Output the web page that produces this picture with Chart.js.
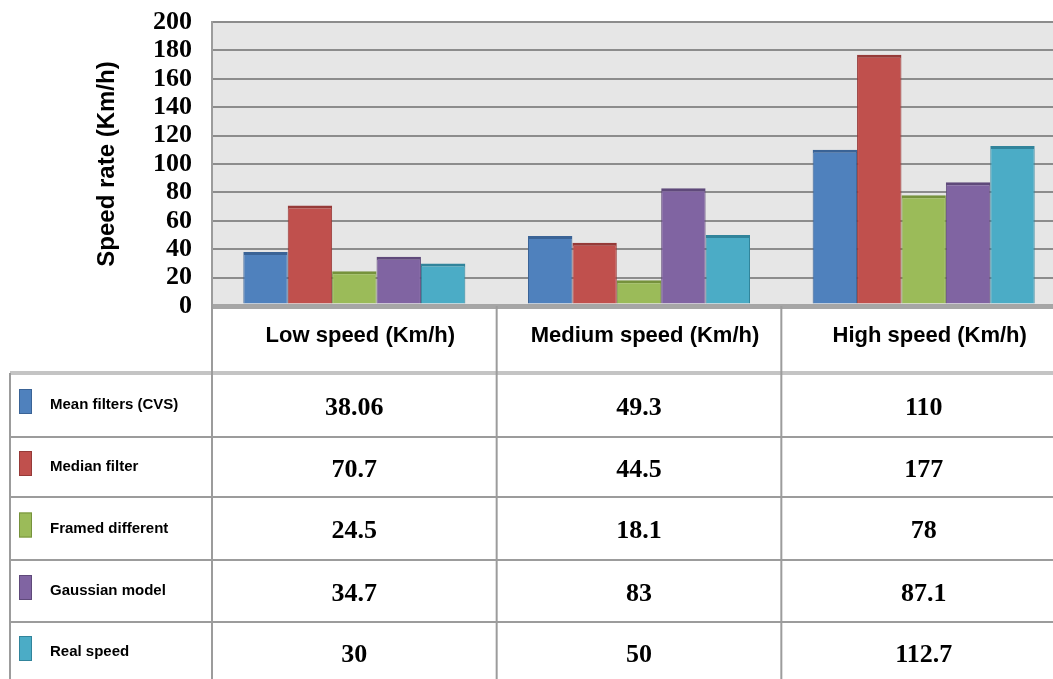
<!DOCTYPE html>
<html>
<head>
<meta charset="utf-8">
<script src="https://cdn.jsdelivr.net/npm/chart.js@4.4.1/dist/chart.umd.min.js"></script>
<style>
  html, body { margin: 0; padding: 0; background: #fff; overflow: hidden; }
  #wrap { width: 1066px; height: 679px; position: relative; }
</style>
</head>
<body>
<div id="wrap"><canvas id="myChart"></canvas></div>
<script>
// categories and series
const categories = ['Low speed (Km/h)', 'Medium speed (Km/h)', 'High speed (Km/h)'];
const seriesNames = ['Mean filters (CVS)', 'Median filter', 'Framed different', 'Gaussian model', 'Real speed'];
const meanFilters = [38.06, 49.3, 110];
const medianFilter = [70.7, 44.5, 177];
const framedDifferent = [24.5, 18.1, 78];
const gaussianModel = [34.7, 83, 87.1];
const realSpeed = [30, 50, 112.7];
const yTicks = [0, 20, 40, 60, 80, 100, 120, 140, 160, 180, 200];

const seriesValues = [meanFilters, medianFilter, framedDifferent, gaussianModel, realSpeed];
const fills = ['#4f81bd', '#c0504d', '#9bbb59', '#8064a2', '#4bacc6'];
const edges = ['#3a6396', '#963a38', '#76923c', '#5f497a', '#31849b'];

// row boundaries of the data table under the plot
const rowTops = [373, 437, 497, 560, 622, 690];

const tablePlugin = {
    id: 'tablePlugin',
    beforeDraw(chart) {
        const {ctx, chartArea} = chart;
        ctx.save();
        ctx.fillStyle = '#e6e6e6';
        ctx.fillRect(chartArea.left, chartArea.top, chartArea.right - chartArea.left, chartArea.bottom - chartArea.top);
        ctx.restore();
    },
    afterDraw(chart) {
        const {ctx, chartArea} = chart;
        const xs = chart.scales.x;
        const step = xs.getPixelForValue(1) - xs.getPixelForValue(0);
        const bounds = [];
        for (let i = 0; i < categories.length; i++) bounds.push(xs.getPixelForValue(i) - step / 2);
        bounds.push(xs.getPixelForValue(categories.length - 1) + step / 2);
        const bottom = chart.height;

        ctx.save();
        // horizontal rules
        rowTops.slice(0, 5).forEach((y, i) => {
            ctx.strokeStyle = i === 0 ? '#c4c4c4' : '#9c9c9c';
            ctx.lineWidth = i === 0 ? 4 : 2;
            ctx.beginPath();
            ctx.moveTo(10, y);
            ctx.lineTo(chart.width, y);
            ctx.stroke();
        });
        // vertical rules
        ctx.strokeStyle = '#9c9c9c';
        ctx.lineWidth = 2;
        ctx.beginPath();
        ctx.moveTo(10, rowTops[0]);
        ctx.lineTo(10, bottom);
        bounds.slice(0, 3).forEach(x => {
            ctx.moveTo(x, chartArea.bottom);
            ctx.lineTo(x, bottom);
        });
        ctx.stroke();

        // header row
        ctx.fillStyle = '#000';
        ctx.textAlign = 'center';
        ctx.textBaseline = 'middle';
        ctx.font = 'bold 22px "Liberation Sans", Arial, sans-serif';
        categories.forEach((c, i) => {
            ctx.fillText(c, (bounds[i] + bounds[i + 1]) / 2 + 6, 336);
        });

        // legend cells and values
        seriesNames.forEach((name, r) => {
            const yc = (rowTops[r] + rowTops[r + 1]) / 2 - (r === 4 ? 4 : 0);
            ctx.fillStyle = fills[r];
            ctx.fillRect(19, yc - 16, 13, 25);
            ctx.strokeStyle = edges[r];
            ctx.lineWidth = 1;
            ctx.strokeRect(19.5, yc - 15.5, 12, 24);

            ctx.fillStyle = '#000';
            ctx.textAlign = 'left';
            ctx.font = 'bold 15px "Liberation Sans", Arial, sans-serif';
            ctx.fillText(name, 50, yc);

            ctx.textAlign = 'center';
            ctx.font = 'bold 26px "Liberation Serif", serif';
            seriesValues[r].forEach((v, i) => {
                ctx.fillText(String(v), (bounds[i] + bounds[i + 1]) / 2, yc + 3);
            });
        });
        ctx.restore();
    }
};

const ctx = document.getElementById('myChart').getContext('2d');
const myChart = new Chart(ctx, {
    type: 'bar',
    data: {
        labels: categories,
        datasets: seriesNames.map((name, i) => ({
            label: name,
            data: seriesValues[i],
            backgroundColor: fills[i],
            borderColor: edges[i],
            borderWidth: {top: 3, left: 1, right: 1, bottom: 0},
            borderSkipped: 'bottom',
            barPercentage: 1,
            categoryPercentage: 0.78
        }))
    },
    options: {
        responsive: true,
        maintainAspectRatio: false,
        animation: false,
        layout: {
            padding: {top: 22, bottom: 373, left: 0, right: 0}
        },
        scales: {
            x: {
                display: false
            },
            y: {
                min: 0,
                max: 200,
                afterBuildTicks: (scale) => {
                    scale.ticks = yTicks.map(v => ({value: v}));
                },
                afterFit: (scale) => {
                    scale.width = 212;
                },
                ticks: {
                    autoSkip: false,
                    padding: 0,
                    color: '#000',
                    font: {family: '"Liberation Serif", serif', size: 26, weight: 'bold', lineHeight: 1}
                },
                grid: {
                    drawTicks: true,
                    tickLength: 20,
                    tickColor: 'rgba(0,0,0,0)',
                    color: (c) => c.tick && c.tick.value === 0 ? '#a6a6a6' : '#8c8c8c',
                    lineWidth: (c) => c.tick && c.tick.value === 0 ? 5 : 2
                },
                border: {
                    color: '#9c9c9c',
                    width: 2
                },
                title: {
                    display: true,
                    text: 'Speed rate (Km/h)',
                    color: '#000',
                    padding: {top: 93, bottom: 0},
                    font: {family: '"Liberation Sans", Arial, sans-serif', size: 24, weight: 'bold'}
                }
            }
        },
        plugins: {
            legend: {display: false},
            tooltip: {enabled: false}
        }
    },
    plugins: [tablePlugin]
});
</script>
</body>
</html>
